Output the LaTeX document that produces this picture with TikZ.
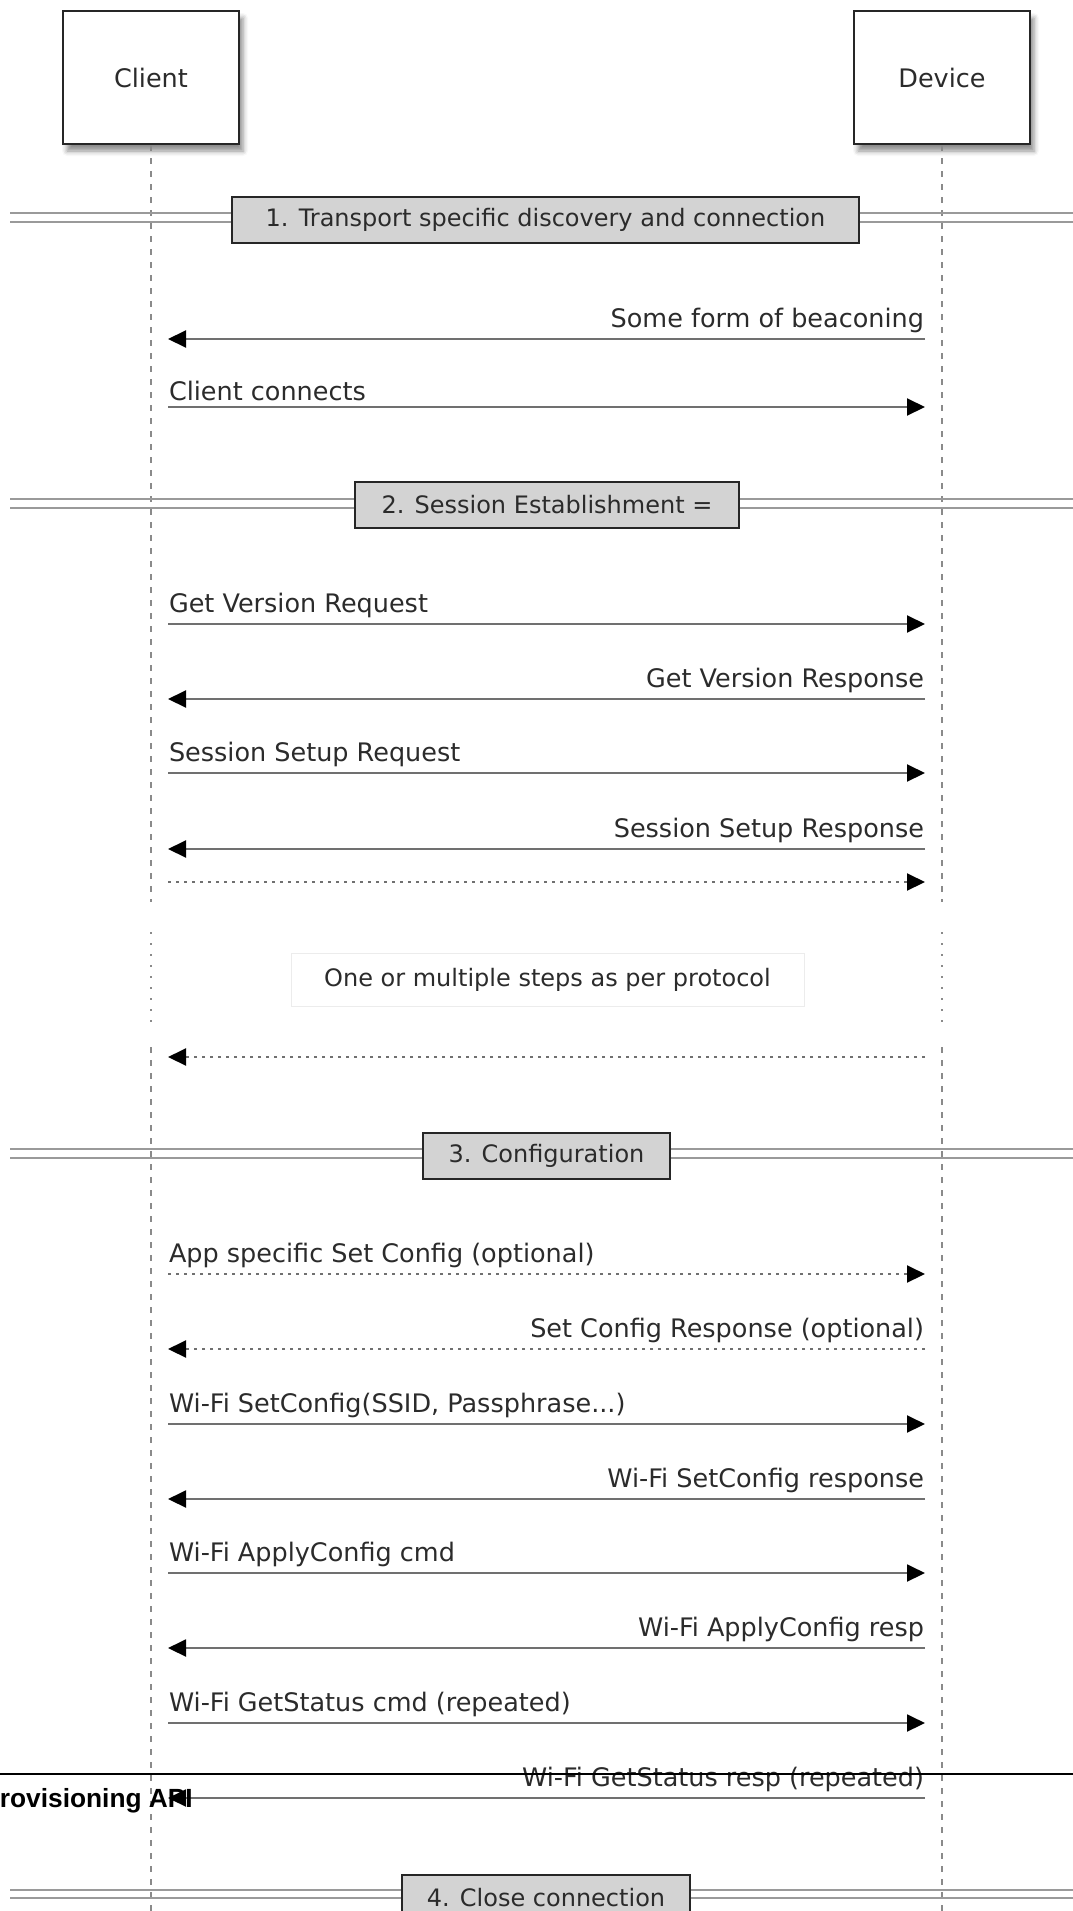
\documentclass[tikz,border=0pt]{standalone}
\usepackage{fontspec}
\setmainfont{DejaVu Sans}
\newfontfamily\pagefont{Liberation Sans}
\usepackage{tikz}
\usetikzlibrary{arrows.meta, positioning, shadows.blur}
\usepackage{xcolor}
\definecolor{seqInk}  {HTML}{2B2B2B}
\definecolor{seqWire} {HTML}{707070}
\definecolor{seqLife} {HTML}{8A8A8A}
\definecolor{seqRail} {HTML}{9A9A9A}
\definecolor{seqBar}  {HTML}{D3D3D3}
\definecolor{seqNote} {HTML}{ECECEC}
\tikzset{
  actor/.style    = {rectangle, draw=black!85, line width=2pt, fill=white,
                     minimum width=176pt, minimum height=133pt, inner sep=0pt,
                     font=\fontsize{25.5}{30}\selectfont, text=seqInk,
                     blur shadow={shadow xshift=4pt, shadow yshift=-7pt,
                                  shadow blur radius=5pt, shadow opacity=45}},
  life/.style     = {seqLife, line width=1.5pt, dash pattern=on 6pt off 7pt},
  lifegap/.style  = {seqLife, line width=1.5pt, dash pattern=on 1.5pt off 9.5pt},
  railline/.style = {seqRail, line width=2pt},
  phasebox/.style = {rectangle, draw=black!85, line width=2pt, fill=seqBar,
                     minimum height=46pt, inner sep=0pt,
                     font=\fontsize{24}{28}\selectfont, text=seqInk},
  msg/.style      = {-{Triangle[length=18pt, width=17pt, color=black]},
                     seqWire, line width=2pt},
  dotmsg/.style   = {msg, dash pattern=on 3pt off 5pt},
  lbl/.style      = {inner sep=0pt, yshift=5pt,
                     font=\fontsize{25.5}{30}\selectfont, text=seqInk},
  notebox/.style  = {rectangle, draw=seqNote, line width=1pt, fill=white,
                     minimum width=513pt, minimum height=53pt,
                     font=\fontsize{24}{28}\selectfont, text=seqInk},
}

\begin{document}
\begin{tikzpicture}[x=1pt, y=-1pt]
  \path[use as bounding box, clip] (0,0) rectangle (1073,1911);

  % participants
  \node[actor] (client) at (151,77.5) {Client};
  \node[actor] (device) at (942,77.5) {Device};

  % lifelines, broken around the note
  \coordinate (cbreak) at (151,902);   \coordinate (dbreak) at (942,902);
  \coordinate (cgapA)  at (151,932);   \coordinate (dgapA)  at (942,932);
  \coordinate (cgapB)  at (151,1022);  \coordinate (dgapB)  at (942,1022);
  \coordinate (cback)  at (151,1047);  \coordinate (dback)  at (942,1047);
  \coordinate (cend)   at (151,1911);  \coordinate (dend)   at (942,1911);
  \draw[life] (client.south) -- (cbreak);
  \draw[life] (device.south) -- (dbreak);
  \draw[lifegap] (cgapA) -- (cgapB);
  \draw[lifegap] (dgapA) -- (dgapB);
  \draw[life] (cback) -- (cend);
  \draw[life] (dback) -- (dend);

  % phase separators
  \draw[railline] (10,213) -- (1073,213) (10,222) -- (1073,222);
  \node[phasebox, minimum width=627pt] (phase1) at (545.5,219.5)
    {1. Transport specific discovery and connection};
  \draw[railline] (10,499) -- (1073,499) (10,508) -- (1073,508);
  \node[phasebox, minimum width=384pt] (phase2) at (547,505)
    {2. Session Establishment =};
  \draw[railline] (10,1149) -- (1073,1149) (10,1158) -- (1073,1158);
  \node[phasebox, minimum width=247pt] (phase3) at (546.5,1155.5)
    {3. Configuration};
  \draw[railline] (10,1890) -- (1073,1890) (10,1898) -- (1073,1898);
  \node[phasebox, minimum width=288pt] (phase4) at (546,1897.5)
    {4. Close connection};

  % message end points on both lifelines
  \foreach \i/\y in {1/339, 2/407, 3/624, 4/699, 5/773, 6/849, 7/882, 8/1057,
                     9/1274, 10/1349, 11/1424, 12/1499, 13/1573, 14/1648,
                     15/1723, 16/1798}{
    \coordinate (c\i) at (168,\y);
    \coordinate (d\i) at (925,\y);
  }

  % messages
  \draw[msg] (d1) -- (c1) node[lbl, pos=0, anchor=south east] (m1) {Some form of beaconing};
  \draw[msg] (c2) -- (d2) node[lbl, pos=0, anchor=south west] (m2) {Client connects};
  \draw[msg] (c3) -- (d3) node[lbl, pos=0, anchor=south west] (m3) {Get Version Request};
  \draw[msg] (d4) -- (c4) node[lbl, pos=0, anchor=south east] (m4) {Get Version Response};
  \draw[msg] (c5) -- (d5) node[lbl, pos=0, anchor=south west] (m5) {Session Setup Request};
  \draw[msg] (d6) -- (c6) node[lbl, pos=0, anchor=south east] (m6) {Session Setup Response};
  \draw[dotmsg] (c7) -- (d7);
  \node[notebox] (steps) at (547.5,979.5) {One or multiple steps as per protocol};
  \draw[dotmsg] (d8) -- (c8);
  \draw[dotmsg] (c9) -- (d9) node[lbl, pos=0, anchor=south west] (m9) {App specific Set Config (optional)};
  \draw[dotmsg] (d10) -- (c10) node[lbl, pos=0, anchor=south east] (m10) {Set Config Response (optional)};
  \draw[msg] (c11) -- (d11) node[lbl, pos=0, anchor=south west] (m11) {Wi-Fi SetConfig(SSID, Passphrase...)};
  \draw[msg] (d12) -- (c12) node[lbl, pos=0, anchor=south east] (m12) {Wi-Fi SetConfig response};
  \draw[msg] (c13) -- (d13) node[lbl, pos=0, anchor=south west] (m13) {Wi-Fi ApplyConfig cmd};
  \draw[msg] (d14) -- (c14) node[lbl, pos=0, anchor=south east] (m14) {Wi-Fi ApplyConfig resp};
  \draw[msg] (c15) -- (d15) node[lbl, pos=0, anchor=south west] (m15) {Wi-Fi GetStatus cmd (repeated)};
  \draw[msg] (d16) -- (c16) node[lbl, pos=0, anchor=south east] (m16) {Wi-Fi GetStatus resp (repeated)};

  % page heading laid over the diagram
  \coordinate (ruleL) at (0,1774);
  \coordinate (ruleR) at (1073,1774);
  \draw[black, line width=1.5pt] (ruleL) -- (ruleR);
  \node[inner sep=0pt, anchor=base east,
        font=\pagefont\bfseries\fontsize{26.3}{30}\selectfont] (apihead) at (193,1807)
    {rovisioning API};
\end{tikzpicture}
\end{document}
